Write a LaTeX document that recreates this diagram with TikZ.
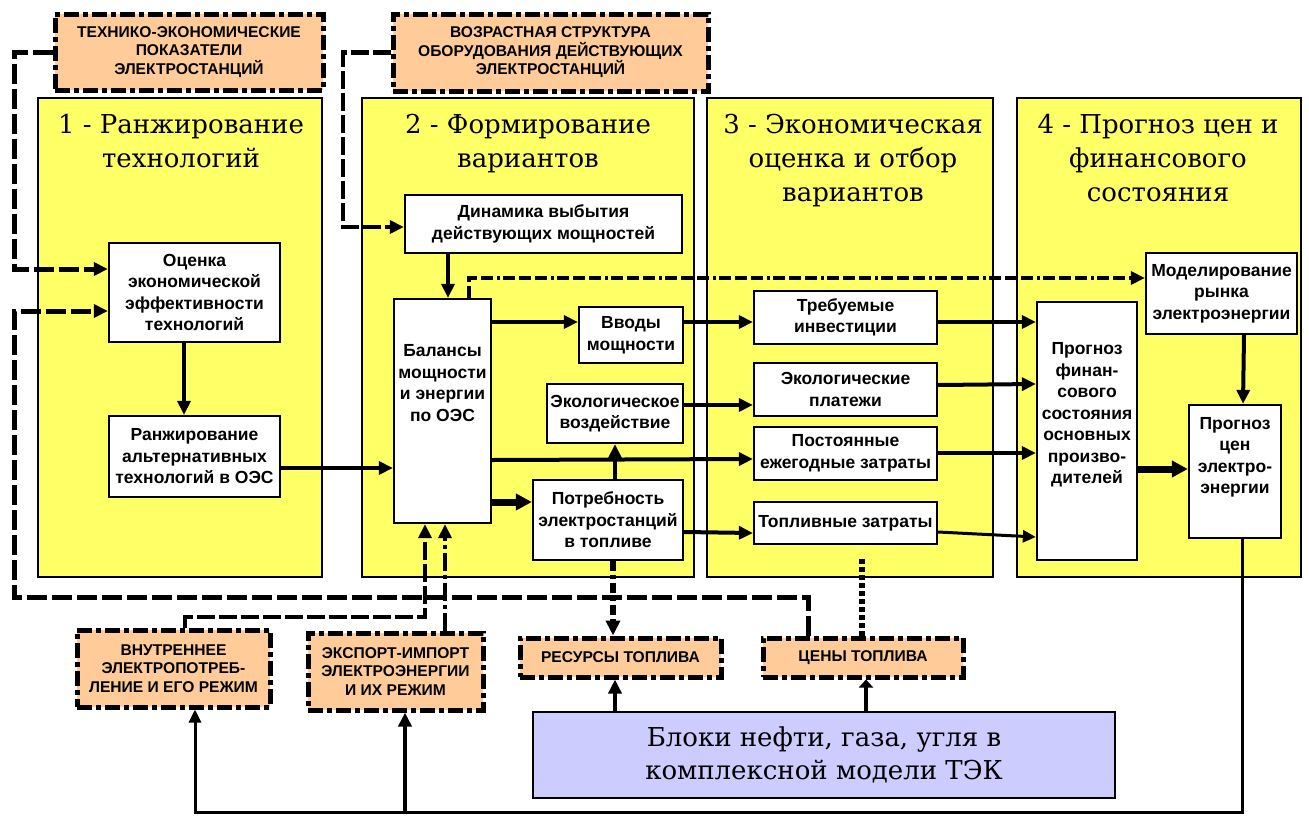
\documentclass[tikz,border=0pt]{standalone}
\usepackage{fontspec}
\setmainfont{DejaVu Serif}
\setsansfont{Liberation Sans}
\usetikzlibrary{arrows.meta}
\definecolor{panelY}{HTML}{FFFF66}
\definecolor{boxO}{HTML}{FFCC99}
\definecolor{boxB}{HTML}{CCCCFF}
\tikzset{
 panel/.style={draw=black, line width=2pt, fill=panelY, inner sep=0pt},
 hdr/.style={font=\fontsize{26}{34}\selectfont, align=center, inner sep=0pt, anchor=north},
 wbox/.style={draw=black, line width=2.3pt, fill=white, inner sep=0pt, align=center, font=\sffamily\bfseries\fontsize{17.5}{21.5}\selectfont},
 wtext/.style={inner sep=0pt, align=center, font=\sffamily\bfseries\fontsize{17.5}{21.5}\selectfont},
 obox/.style={draw=black, line width=5pt, dash pattern=on 15pt off 4pt on 5pt off 4pt, fill=boxO, inner sep=0pt, align=center, font=\sffamily\bfseries\fontsize{15.6}{18.5}\selectfont},
 bbox/.style={draw=black, line width=2.5pt, fill=boxB, inner sep=0pt, align=center, font=\fontsize{26}{33}\selectfont},
 arr/.style={line width=4pt, -{Triangle[length=14pt,width=13pt]}},
 tarr/.style={line width=7pt, -{Triangle[length=16pt,width=16pt]}},
 arrthin/.style={line width=3pt, -{Triangle[length=13pt,width=12pt]}},
 dloop/.style={line width=5pt, dash pattern=on 20pt off 5pt, -{Triangle[length=14pt,width=13pt]}},
 dmk/.style={line width=4.5pt, dash pattern=on 12pt off 4pt on 12pt off 4pt on 12pt off 4pt on 3pt off 3pt, -{Triangle[length=14pt,width=13pt]}},
 dint/.style={line width=4.5pt, dash pattern=on 18pt off 4pt, -{Triangle[length=14pt,width=13pt]}},
 dexp/.style={line width=4.5pt, dash pattern=on 18pt off 4pt on 4pt off 4pt, -{Triangle[length=14pt,width=13pt]}},
 dres/.style={line width=6pt, dash pattern=on 10pt off 4pt on 4pt off 4pt, -{Triangle[length=15pt,width=14pt]}},
 dotl/.style={line width=6pt, dash pattern=on 5pt off 3pt},
 retline/.style={line width=3pt},
}
\begin{document}
\begin{tikzpicture}[x=1pt,y=-1pt]
\useasboundingbox (0,0) rectangle (1309,817);
\fill[white] (0,0) rectangle (1309,817);

% panels
\node[panel, minimum width=284pt, minimum height=479pt] (p1) at (180,337.5) {};
\node[panel, minimum width=332pt, minimum height=479pt] (p2) at (528,337.5) {};
\node[panel, minimum width=286pt, minimum height=479pt] (p3) at (850,337.5) {};
\node[panel, minimum width=284pt, minimum height=479pt] (p4) at (1159,337.5) {};

\node[hdr] (h1) at (181,114) {1 - Ранжирование\\технологий};
\node[hdr] (h2) at (528,114) {2 - Формирование\\вариантов};
\node[hdr] (h3) at (853,114) {3 - Экономическая\\оценка и отбор\\вариантов};
\node[hdr] (h4) at (1158,114) {4 - Прогноз цен и\\финансового\\состояния};

% orange input boxes
\node[obox, minimum width=268pt, minimum height=76pt] (tech) at (189,52) {ТЕХНИКО-ЭКОНОМИЧЕСКИЕ\\ПОКАЗАТЕЛИ\\ЭЛЕКТРОСТАНЦИЙ};
\node[obox, minimum width=315pt, minimum height=77pt] (age) at (550.5,52.5) {ВОЗРАСТНАЯ СТРУКТУРА\\ОБОРУДОВАНИЯ ДЕЙСТВУЮЩИХ\\ЭЛЕКТРОСТАНЦИЙ};
\node[obox, minimum width=193pt, minimum height=77pt] (intern) at (173.5,668.5) {ВНУТРЕННЕЕ\\ЭЛЕКТРОПОТРЕБ-\\ЛЕНИЕ И ЕГО РЕЖИМ};
\node[obox, minimum width=175pt, minimum height=77pt] (expimp) at (395.5,671.5) {ЭКСПОРТ-ИМПОРТ\\ЭЛЕКТРОЭНЕРГИИ\\И ИХ РЕЖИМ};
\node[obox, minimum width=201pt, minimum height=39pt] (res) at (620.5,657.5) {РЕСУРСЫ ТОПЛИВА};
\node[obox, minimum width=200pt, minimum height=39pt] (fprice) at (863,657.5) {ЦЕНЫ ТОПЛИВА};

% blue box
\node[bbox, minimum width=582pt, minimum height=86pt] (blue) at (824,755) {Блоки нефти, газа, угля в\\комплексной модели ТЭК};

% white boxes
\node[wbox, minimum width=171pt, minimum height=99pt] (ocen) at (194.5,292.5) {Оценка\\экономической\\эффективности\\технологий};
\node[wbox, minimum width=171pt, minimum height=81pt] (rank) at (194.5,456.5) {Ранжирование\\альтернативных\\технологий в ОЭС};
\node[wbox, minimum width=277pt, minimum height=58pt] (dyn) at (543.5,224) {Динамика выбытия\\действующих мощностей};
\node[wbox, minimum width=97pt, minimum height=224pt] (bal) at (442.5,411) {};
\node[wtext] (baltxt) at (442.5,383) {Балансы\\мощности\\и энергии\\по ОЭС};
\node[wbox, minimum width=104pt, minimum height=56pt] (vvod) at (631,335) {Вводы\\мощности};
\node[wbox, minimum width=136pt, minimum height=59pt] (ecoimp) at (615,413.5) {Экологическое\\воздействие};
\node[wbox, minimum width=150pt, minimum height=80pt] (fuelneed) at (608,520) {Потребность\\электростанций\\в топливе};
\node[wbox, minimum width=183pt, minimum height=53pt] (inv) at (845.5,317.5) {Требуемые\\инвестиции};
\node[wbox, minimum width=183pt, minimum height=53pt] (ecopay) at (845.5,389.5) {Экологические\\платежи};
\node[wbox, minimum width=183pt, minimum height=53pt] (fixed) at (845.5,453.5) {Постоянные\\ежегодные затраты};
\node[wbox, minimum width=183pt, minimum height=42pt] (fuelcost) at (845.5,523) {Топливные затраты};
\node[wbox, minimum width=151pt, minimum height=81pt] (market) at (1221.5,293.5) {Моделирование\\рынка\\электроэнергии};
\node[wbox, minimum width=100pt, minimum height=258pt] (fin) at (1087,431) {};
\node[wtext] (fintxt) at (1087,415) {Прогноз\\финан-\\сового\\состояния\\основных\\произво-\\дителей};
\node[wbox, minimum width=92pt, minimum height=133pt] (price) at (1235,471.5) {};
\node[wtext] (pricetxt) at (1235,457.5) {Прогноз\\цен\\электро-\\энергии};

% connectors
\draw[dloop] (tech.west) -- (14,52) -- (14,269) -- (ocen.west |- 0,269);
\draw[dloop] (fprice.north -| 808,0) -- (808,597) -- (14,597) -- (14,311) -- (ocen.west |- 0,311);
\draw[dint] (age.west) -- (343,52.5) -- (343,227) -- (dyn.west |- 0,227);
\draw[arr] (ocen.south -| 184,0) -- (rank.north -| 184,0);
\draw[arr] (rank.east |- 0,468) -- (bal.west |- 0,468);
\draw[arr] (dyn.south -| 448,0) -- (bal.north -| 448,0);
\draw[arr] (bal.east |- 0,322) -- (vvod.west |- 0,322);
\draw[arr] (vvod.east |- 0,322) -- (inv.west |- 0,322);
\draw[arr] (inv.east |- 0,322) -- (fin.west |- 0,322);
\draw[arr] (ecoimp.east |- 0,405) -- (ecopay.west |- 0,405);
\draw[arr] (ecopay.east |- 0,385) -- (fin.west |- 0,384);
\draw[arr] (bal.east |- 0,460) -- (fixed.west |- 0,459);
\draw[arr] (fixed.east |- 0,453) -- (fin.west |- 0,453);
\draw[tarr] (bal.east |- 0,502) -- (fuelneed.west |- 0,502);
\draw[arr] (fuelneed.north -| 615,0) -- (ecoimp.south -| 615,0);
\draw[arr] (fuelneed.east |- 0,532) -- (fuelcost.west |- 0,533);
\draw[arrthin] (fuelcost.east |- 0,532) -- (fin.west |- 0,537);
\draw[dmk] (bal.north -| 469,0) -- (469,278) -- (market.west |- 0,278);
\draw[arr] (market.south -| 1244,0) -- (price.north -| 1243,0);
\draw[tarr] (fin.east |- 0,469) -- (price.west |- 0,469);
\coordinate (jn) at (405,812);
\draw[retline, -{Triangle[length=13pt,width=12pt]}] (price.south -| 1242,0) -- (1242,812) -- (195,812) -- (intern.south -| 195,0);
\draw[arr] (jn) -- (expimp.south -| 405,0);
\draw[dint] (intern.north -| 185,0) -- (185,617) -- (425,617) -- (bal.south -| 425,0);
\draw[dexp] (expimp.north -| 445,0) -- (bal.south -| 445,0);
\draw[dres] (fuelneed.south -| 613,0) -- (res.north -| 613,0);
\draw[dotl, shorten >=11pt] (fprice.north -| 862,0) -- (fuelcost.south -| 862,0);
\draw[arr] (blue.north -| 615,0) -- (res.south -| 615,0);
\draw[line width=4.5pt, -{Triangle[length=8pt,width=14pt]}] (blue.north -| 866,0) -- (fprice.south -| 866,0);
\end{tikzpicture}
\end{document}
